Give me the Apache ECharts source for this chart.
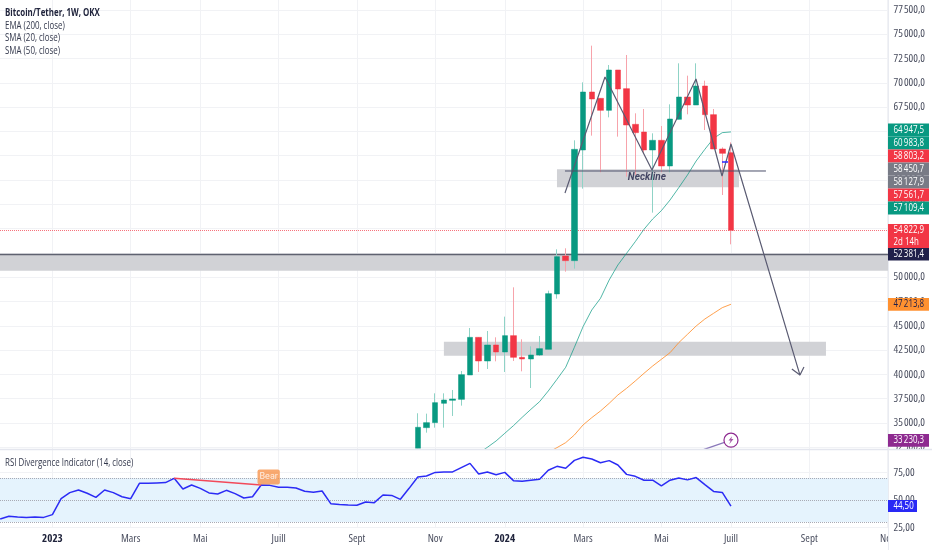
<!DOCTYPE html>
<html><head><meta charset="utf-8">
<style>html,body{margin:0;padding:0;background:#fff}#c{width:932px;height:550px}</style>
<script src="https://cdn.jsdelivr.net/npm/echarts@6/dist/echarts.min.js"></script>
</head><body><div id="c"></div>
<script>
// ---- data (x = week number: week 0 = 2022-11-21, week 84 = 2024-07-01) ----
const firstCandleWeek = 48;
const opens  = [32400,34522,35036,37026,37334,37434,39940,43814,41380,43026,42306,43986,41757,41586,41997,42581,48272,52183,51703,63088,69054,68403,67168,71317,69397,65728,64939,63088,64082,61442,66242,68540,67717,69671,66722,63190,62813];
const highs  = [36000,35962,38054,38054,38397,40351,44775,43814,44466,43814,45941,48958,43609,42889,43952,48615,52870,52973,64082,70048,73820,68403,71831,71317,72860,66859,67305,64802,65556,67785,72003,70734,72003,70220,67305,63362,63876];
const lows   = [32400,34008,34522,34522,35723,36785,39940,40248,40557,41346,40248,41380,40317,38602,41894,42581,47794,50572,50881,59110,64562,60790,66448,64459,60344,60516,62745,56641,60790,60790,66242,66757,67717,65145,63190,58458,53383];
const closes = [34560,35036,37094,37368,37471,39974,43814,41380,43026,42306,43986,41757,41586,41997,42649,48307,52115,51703,63156,69054,68334,67168,71317,69363,65659,64871,63088,64082,61442,66276,68540,67717,69671,66722,63190,62745,54822.9];

const sma20Start = 55;
const sma20 = [31900,32499,33150,33939,34728,35585,36408,37196,38294,39494,40729,42786,44912,46626,47827,49714,51257,52458,53658,54927,55989,56847,57944,59213,60516,61956,63156,64288,64871,64947.5];
const sma50Start = 63;
const sma50 = [32000,32465,32979,33768,34800,35550,36236,37025,37882,38568,39322,40111,40865,41551,42237,43266,44123,44980,45700,46283,46866,47213.8];
const ema200Start = 80;
const ema200 = [32000,32310,32620,32930,33230.3];

const rsi = [32.7,35.2,34.5,34.2,34.5,34.2,36.7,51.2,56.7,59.1,56.1,52.4,59.1,56.7,53,51.2,65.2,65.2,65.5,65.8,69.7,60,63.6,60.6,56.4,55.5,58.8,55.8,51.8,53,63.6,63.3,61.5,61.5,60.9,57.9,57,58.2,46.7,46,45.5,45.2,48.2,47.6,54.5,54.2,50.6,60.6,70.9,71.8,75.1,75.5,75.5,79.4,83.3,73.6,75.5,73,75.1,67.6,67,67.9,68.8,77,80.6,78.8,86,88.8,87.3,83.9,85.8,81.8,73.3,71.5,68,68,62.9,68,70,68.3,70.4,64,57.8,56.9,44.5];

const patternWeeks  = [64.92,69.52,74.92,79.98,82.97,84,91.93];
const patternPrices = [58660,70590,61030,70390,60410,63700,39930];
const arrowWeeks    = [91.0,91.93,92.39];
const arrowPrices   = [40550,39930,40760];
const necklineWeeks  = [64.92,88.02];
const necklinePrices = [60926,60926];
const blueDashWeeks  = [82.97,83.66];
const blueDashPrices = [61852,61852];
const bearWeeks  = [20,30];
const bearValues = [69.7,63.6];

const zoneFull = {from:52381.4, to:50669};
const zoneNeck = {w0:64, w1:84.92, from:61101, to:59249};
const zoneLow  = {w0:51, w1:94.92, from:43364, to:41924};
const lastPrice = 54822.9;
const levelPrice = 52381.4;

const priceTicks = [77500,75000,72500,70000,67500,65000,62500,60000,57500,55000,52500,50000,47500,45000,42500,40000,37500,35000,32500];
const rsiTicks = [75,50,25];
const rsiBands = [70,50,30];
const monthWeeks  = [6,15,23,32,41,50,58,67,76,84,93,102];
const monthLabels = ['2023','Mars','Mai','Juill','Sept','Nov','2024','Mars','Mai','Juill','Sept','Nov'];

const tagTexts  = ['64\u2009947,5','60\u2009983,8','58\u2009803,2','58\u2009450,7','58\u2009127,9','57\u2009561,7','57\u2009109,4','54\u2009822,9','2d 14h','52\u2009381,4','47\u2009213,8','33\u2009230,3','44,50'];
const legendTitle = 'Bitcoin/Tether, 1W, OKX';
const legendRows = ['EMA (200, close)','SMA (20, close)','SMA (50, close)'];
const rsiTitle = 'RSI Divergence Indicator (14, close)';

// ---- layout & style ----
const FONT = '"Open Sans",sans-serif';
const COND = 'normal condensed';
const UP='#089981', DOWN='#f23645';
const SQ = 0.72;
const tagBoxes = [[123.5,13,UP],[136.5,13,UP],[149.5,13,DOWN],[162.5,13,'#787b86'],[175.5,13,'#787b86'],[188.5,13,DOWN],[201.5,13,UP],[224,12,DOWN],[236,12,DOWN],[248,12.5,'#20204a'],[298,12.7,'#ff9130'],[434,12.7,'#8e2a90'],[500,12,'#2929f5']];

const fmtPrice = v => { const s=String(v); return s.slice(0,s.length-3)+'\u202f'+s.slice(-3)+',0'; };
const wick = [], body = [];
opens.forEach((o,i)=>{
  const w=firstCandleWeek+i, c=closes[i];
  wick.push([w,o,c,lows[i],highs[i]]);
  body.push([w,o,c,Math.min(o,c),Math.max(o,c)]);
});
const pts = (weeks,vals)=>weeks.map((w,i)=>[w,vals[i]]);
const seq = (start,vals)=>vals.map((v,i)=>[start+i,v]);
const xMin=-0.023, xMax=102.05;

const gridLine='#f1f2f5';
const xCommon = {
  type:'value', min:xMin, max:xMax, axisLine:{show:false}, axisPointer:{show:false},
  axisTick:{show:false, customValues:monthWeeks},
  splitLine:{show:true, lineStyle:{color:gridLine,width:1}},
};
const chart = echarts.init(document.getElementById('c'),null,{renderer:'canvas'});

const graphic = [];
graphic.push({type:'rect',z:50,shape:{x:888,y:449,width:44,height:7},style:{fill:'#fff'}});
graphic.push({type:'rect',z:50,shape:{x:888,y:532,width:44,height:18},style:{fill:'#fff'}});
graphic.push({type:'line',z:51,shape:{x1:0,y1:449.5,x2:932,y2:449.5},style:{stroke:'#e4e6ee',lineWidth:1.6}});
graphic.push({type:'line',z:51,shape:{x1:888.5,y1:0,x2:888.5,y2:550},style:{stroke:'#e9ebf1',lineWidth:1}});
tagTexts.forEach((txt,i)=>{
  const [y,h,col]=tagBoxes[i];
  const w = i===12?29:41;
  graphic.push({type:'rect',z:60,shape:{x:888,y,width:w,height:h},style:{fill:col}});
  graphic.push({type:'text',z:61,x:893.5,y:y+h/2,scaleX:SQ,style:{text:txt,fill:i===10?'#20204a':'#fff',font:'11px '+FONT,verticalAlign:'middle'}});
});
graphic.push({type:'text',z:40,x:5,y:12.5,scaleX:SQ,style:{text:legendTitle,fill:'#20243c',font:'bold 11px '+FONT,verticalAlign:'middle'}});
legendRows.forEach((s,i)=>graphic.push({type:'text',z:40,x:5,y:25.5+i*12.8,scaleX:SQ,style:{text:s,fill:'#33384c',font:'11px '+FONT,verticalAlign:'middle'}}));
graphic.push({type:'text',z:40,x:5,y:463,scaleX:SQ,style:{text:rsiTitle,fill:'#33384c',font:'11px '+FONT,verticalAlign:'middle'}});

chart.setOption({
  animation:false, backgroundColor:'#fff', tooltip:{show:false},
  graphic,
  grid:[{left:0,top:0,width:888,height:449,outerBoundsMode:'none'},{left:0,top:450,width:888,height:77.5,outerBoundsMode:'none'}],
  xAxis:[
    {...xCommon, gridIndex:0, axisLabel:{show:false}},
    {...xCommon, gridIndex:1, position:'bottom',
     axisLabel:{show:true, customValues:monthWeeks, margin:6, hideOverlap:false, color:'#4a4e5f',
       fontFamily:FONT, fontSize:11, fontStyle:COND,
       formatter:v=>{const s=monthLabels[monthWeeks.indexOf(v)]||'';return s.startsWith('20')?'{b|'+s+'}':s;},
       rich:{b:{fontWeight:'bold',color:'#20243c',fontSize:11,fontFamily:FONT,fontStyle:COND}}}},
  ],
  yAxis:[
    {type:'value',gridIndex:0,position:'right',min:32325,max:78518,axisLine:{show:false},
     axisTick:{show:false,customValues:priceTicks},
     axisLabel:{margin:5.5,customValues:priceTicks,formatter:fmtPrice,color:'#4a4e5f',fontFamily:FONT,fontSize:11,fontStyle:COND,padding:[0,0,2.6,0]},
     splitLine:{show:true,lineStyle:{color:gridLine}}},
    {type:'value',gridIndex:1,position:'right',min:25,max:95.45,axisLine:{show:false},
     axisTick:{show:false,customValues:rsiTicks},
     axisLabel:{margin:5.5,customValues:rsiTicks,formatter:v=>v.toFixed(2).replace('.',','),color:'#4a4e5f',fontFamily:FONT,fontSize:11,fontStyle:COND,padding:[0,0,2.6,0]},
     splitLine:{show:true,lineStyle:{color:gridLine}}},
  ],
  series:[
    {name:'zones',type:'line',xAxisIndex:0,yAxisIndex:0,data:[],z:1,symbol:'none',
     markArea:{silent:true,z:1,itemStyle:{color:'#d1d2d6'},data:[
       [{yAxis:zoneFull.from},{yAxis:zoneFull.to}],
       [{coord:[zoneNeck.w0,zoneNeck.from]},{coord:[zoneNeck.w1,zoneNeck.to]}],
       [{coord:[zoneLow.w0,zoneLow.from]},{coord:[zoneLow.w1,zoneLow.to]}],
     ]},
     markLine:{silent:true,symbol:'none',z:2,label:{show:false},data:[
       {yAxis:levelPrice,lineStyle:{color:'#5f6270',width:1.4,type:'solid'}},
       {yAxis:lastPrice,lineStyle:{color:DOWN,width:1,type:'dotted',opacity:.7}},
     ]}},
    {name:'wicks',type:'candlestick',xAxisIndex:0,yAxisIndex:0,z:3,barWidth:1,encode:{x:0,y:[1,2,3,4]},data:wick,
     itemStyle:{color:'#8fd3c6',color0:'#f7a3ab',borderColor:'#8fd3c6',borderColor0:'#f7a3ab',borderWidth:1}},
    {name:'sma20',type:'line',xAxisIndex:0,yAxisIndex:0,z:3,symbol:'none',data:seq(sma20Start,sma20),lineStyle:{color:UP,width:1,opacity:.7}},
    {name:'sma50',type:'line',xAxisIndex:0,yAxisIndex:0,z:3,symbol:'none',data:seq(sma50Start,sma50),lineStyle:{color:'#ff8f2e',width:1,opacity:.85}},
    {name:'ema200',type:'line',xAxisIndex:0,yAxisIndex:0,z:3,symbol:'none',data:seq(ema200Start,ema200),lineStyle:{color:'#8a78ba',width:1.2},
     markPoint:{silent:true,symbol:'circle',symbolSize:14,itemStyle:{color:'#fff',borderColor:'#8e2a90',borderWidth:1.2},label:{show:false},
       data:[{coord:[84,33230.3]}]}},
    {name:'bolt',type:'scatter',xAxisIndex:0,yAxisIndex:0,z:8,symbol:'path://M6,0 L1,6 L4,6 L2,11 L8,4 L5,4 Z',symbolSize:[5,8],itemStyle:{color:'#8e2a90'},data:[[84,33230.3]]},
    {name:'bodies',type:'candlestick',xAxisIndex:0,yAxisIndex:0,z:4,barWidth:6,encode:{x:0,y:[1,2,3,4]},data:body,
     itemStyle:{color:UP,color0:DOWN,borderColor:UP,borderColor0:DOWN,borderWidth:.5}},
    {name:'pattern',type:'line',xAxisIndex:0,yAxisIndex:0,z:6,symbol:'none',data:pts(patternWeeks,patternPrices),lineStyle:{color:'#5a5b72',width:1.2}},
    {name:'arrow',type:'line',xAxisIndex:0,yAxisIndex:0,z:6,symbol:'none',data:pts(arrowWeeks,arrowPrices),lineStyle:{color:'#5a5b72',width:1.2}},
    {name:'neck',type:'line',xAxisIndex:0,yAxisIndex:0,z:6,symbol:'none',data:pts(necklineWeeks,necklinePrices),lineStyle:{color:'#4a4e69',width:1}},
    {name:'blue',type:'line',xAxisIndex:0,yAxisIndex:0,z:6,symbol:'none',data:pts(blueDashWeeks,blueDashPrices),lineStyle:{color:'#2a2aff',width:1.4}},
    {name:'necktext',type:'scatter',xAxisIndex:0,yAxisIndex:0,z:7,symbolSize:0,data:[[74.34,60206]],
     label:{show:true,position:'inside',formatter:'Neckline',color:'#1e2145',fontStyle:'italic',fontWeight:'bold',fontFamily:'Roboto',fontSize:10}},
    {name:'rsi',type:'line',xAxisIndex:1,yAxisIndex:1,z:4,symbol:'none',data:seq(0,rsi),lineStyle:{color:'#2b2bf5',width:1.5},
     markArea:{silent:true,z:1,itemStyle:{color:'#e5f3fd'},data:[[{yAxis:rsiBands[0]},{yAxis:rsiBands[2]}]]},
     markLine:{silent:true,symbol:'none',z:2,label:{show:false},lineStyle:{color:'#a8aab4',width:1,type:'dotted'},data:rsiBands.map(v=>({yAxis:v}))}},
    {name:'bearLine',type:'line',xAxisIndex:1,yAxisIndex:1,z:5,symbol:'none',data:pts(bearWeeks,bearValues),lineStyle:{color:'#f2495a',width:1.5}},
    {name:'bearTag',type:'scatter',xAxisIndex:1,yAxisIndex:1,z:6,symbolSize:0,data:[[30.86,70.9]],
     label:{show:true,position:'inside',formatter:'Bear',color:'#fff',backgroundColor:'#f7934c',borderRadius:2,padding:[3,2],fontFamily:'Roboto',fontSize:9}},
  ],
});
</script></body></html>
